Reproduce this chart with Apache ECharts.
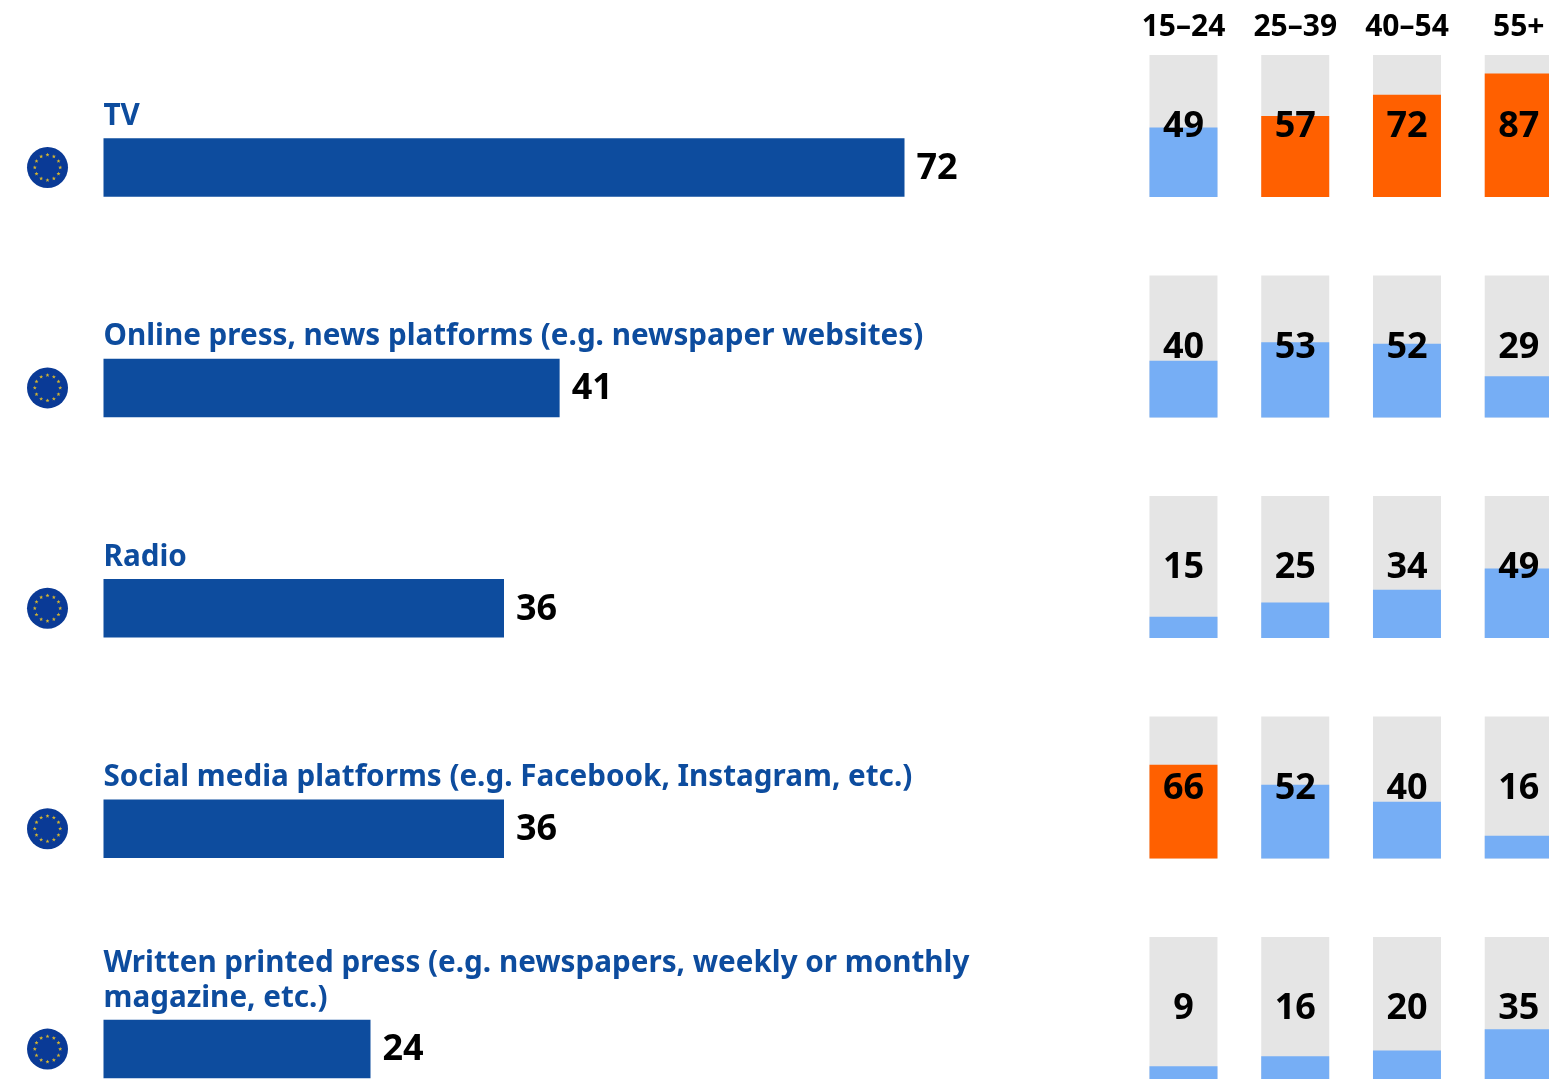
<!DOCTYPE html>
<html>
<head>
<meta charset="utf-8">
<style>html,body{margin:0;padding:0;background:#fff;overflow:hidden}#c{width:1549px;height:1079px}</style>
<script src="https://cdn.jsdelivr.net/npm/echarts@6/dist/echarts.min.js"></script>
</head>
<body>
<div id="c"></div>
<script>
const categories = ['TV','Online press, news platforms (e.g. newspaper websites)','Radio','Social media platforms (e.g. Facebook, Instagram, etc.)','Written printed press (e.g. newspapers, weekly or monthly\nmagazine, etc.)'];
const euValues = [72,41,36,36,24];
const ageGroups = ['15–24','25–39','40–54','55+'];
const tvByAge = [49,57,72,87];
const onlineByAge = [40,53,52,29];
const radioByAge = [15,25,34,49];
const socialByAge = [66,52,40,16];
const printByAge = [9,16,20,35];
const fullScale = [100,100,100,100];
const highlighted = ['0-1','0-2','0-3','3-0'];

const FONT='"Noto Sans"', BLUE='#0d4c9e', TITLE='#0d4c9e', LIGHT='#76aef5', ORANGE='#ff6000', GREY='#e5e5e5';
const byAge=[tvByAge,onlineByAge,radioByAge,socialByAge,printByAge];
const rowTop=[55,275.5,496,716.5,937];
const grid=[{left:103.5,width:1112.5,top:57.3,height:1102,outerBoundsMode:'none'}];
const xAxis=[{gridIndex:0,type:'value',min:0,max:100,show:false}];
const yAxis=[{gridIndex:0,type:'category',inverse:true,data:categories,
  axisLine:{show:false},axisTick:{show:false},
  axisLabel:{inside:true,margin:0,align:'left',verticalAlign:'bottom',padding:[0,0,33.5,0],
    fontFamily:FONT,fontWeight:700,fontSize:29.65,lineHeight:35,color:TITLE}}];
const series=[{type:'bar',xAxisIndex:0,yAxisIndex:0,data:euValues,barWidth:58.5,itemStyle:{color:BLUE},
  label:{show:true,position:'right',distance:12,offset:[0,1],fontFamily:FONT,fontWeight:700,fontSize:36,color:'#000'}},
 {type:'custom',xAxisIndex:0,yAxisIndex:0,data:categories.map((c,i)=>[0,i]),encode:{x:0,y:1},z:5,
  renderItem(p,api){
    const o=api.coord([0,api.value(1)]);const cx=o[0]-56,cy=o[1];
    const kids=[{type:'circle',shape:{cx,cy,r:20.5},style:{fill:'#0a3a96'}}];
    for(let k=0;k<12;k++){
      const a=k*Math.PI/6,sx=cx+12.7*Math.sin(a),sy=cy-12.7*Math.cos(a),pts=[];
      for(let j=0;j<10;j++){const r=j%2?0.9:2.1,b=j*Math.PI/5;pts.push([sx+r*Math.sin(b),sy-r*Math.cos(b)]);}
      kids.push({type:'polygon',shape:{points:pts},style:{fill:'#d4b430'}});
    }
    return {type:'group',children:kids};
  }}];
byAge.forEach((vals,r)=>{
  const g=r+1;
  grid.push({left:1127.6,width:447,top:rowTop[r],height:142,outerBoundsMode:'none'});
  xAxis.push({gridIndex:g,type:'category',position:'top',data:ageGroups,
    axisLine:{show:false},axisTick:{show:false},
    axisLabel:{show:r===0,margin:12.5,interval:0,fontFamily:FONT,fontWeight:700,fontSize:30,color:'#000'}});
  yAxis.push({gridIndex:g,type:'value',min:0,max:100,show:false});
  series.push({type:'bar',xAxisIndex:g,yAxisIndex:g,data:fullScale,barWidth:68,barGap:'-100%',itemStyle:{color:GREY},
    label:{show:true,position:'insideTop',distance:54,fontFamily:FONT,fontWeight:700,fontSize:36,color:'#000',
      formatter:p=>vals[p.dataIndex]}});
  series.push({type:'bar',xAxisIndex:g,yAxisIndex:g,data:vals,barWidth:68,barGap:'-100%',
    itemStyle:{color:p=>highlighted.includes(r+'-'+p.dataIndex)?ORANGE:LIGHT}});
});
const chart=echarts.init(document.getElementById('c'),null,{renderer:'canvas'});
chart.setOption({animation:false,backgroundColor:'#fff',grid,xAxis,yAxis,series,tooltip:{show:false}});
</script>
</body>
</html>
